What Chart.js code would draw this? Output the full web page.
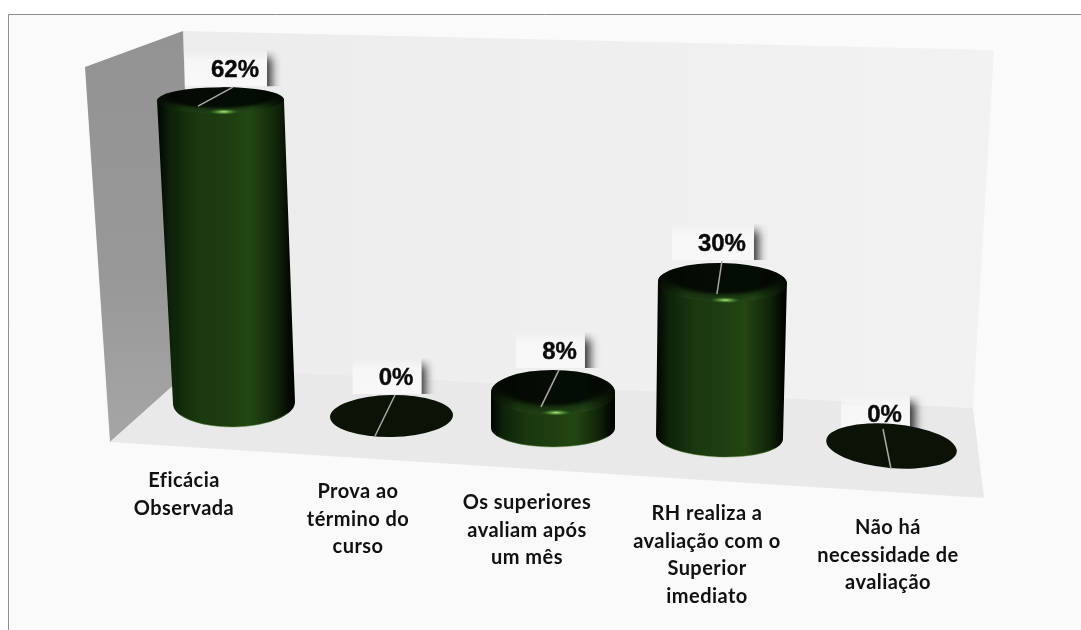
<!DOCTYPE html>
<html lang="pt">
<head>
<meta charset="utf-8">
<style>
  html, body { margin: 0; padding: 0; background: #ffffff; }
  canvas { display: block; }
</style>
<script src="https://cdn.jsdelivr.net/npm/chart.js@4/dist/chart.umd.min.js"></script>
</head>
<body>
<canvas id="chart" width="1081" height="630"></canvas>
<script>
const categories = [
  ["Eficácia", "Observada"],
  ["Prova ao", "término do", "curso"],
  ["Os superiores", "avaliam após", "um mês"],
  ["RH realiza a", "avaliação com o", "Superior", "imediato"],
  ["Não há", "necessidade de", "avaliação"]
];
const percentages = [62, 0, 8, 30, 0];

// Perspective of each column on the sloped floor, in canvas pixels.
const perspective = [
  { dx: 4,    floorY: 403, depth: 0.977, lean: -0.0446, rx: 61,   ry: 24, topRx: 63.5, topRy: 13,   rot: -1 },
  { dx: -3.5, floorY: 416, depth: 1,     lean: 0,       rx: 61.5, ry: 21, topRx: 61.5, topRy: 21,   rot: -1 },
  { dx: -7,   floorY: 428, depth: 0.89,  lean: 0,       rx: 62,   ry: 19, topRx: 62,   topRy: 22.5, rot: 0 },
  { dx: -5.5, floorY: 437, depth: 1.03,  lean: 0.019,   rx: 63.5, ry: 20, topRx: 64.5, topRy: 19.5, rot: 2 },
  { dx: 1.5,  floorY: 446, depth: 1,     lean: 0,       rx: 65.5, ry: 22, topRx: 65.5, topRy: 22,   rot: 5 }
];
// Callout placement relative to the centre of each column's top face.
const callouts = [
  { tx: 14.5, ty: -23,   from: [12.5, -13],  to: [-22.5, 6] },
  { tx: 4.5,  ty: -31,   from: [3.5, -21],   to: [-16.5, 20] },
  { tx: 6.5,  ty: -33.5, from: [6, -22.5],   to: [-12, 14.5] },
  { tx: -0.5, ty: -31.5, from: [-0.5, -21.5],to: [-5.5, 11.5] },
  { tx: -7,   ty: -24,   from: [-8.5, -17],  to: [-0.5, 23] }
];
const categoryLabelPlacement = [
  { x: 184, y: 487 }, { x: 358, y: 498 }, { x: 527, y: 509 }, { x: 707, y: 520 }, { x: 888, y: 534 }
];

function polygon(ctx, pts) {
  ctx.beginPath();
  pts.forEach((p, i) => (i ? ctx.lineTo(p[0], p[1]) : ctx.moveTo(p[0], p[1])));
  ctx.closePath();
}

// Frame, back wall, side wall and floor of the 3D plot box.
const plotBox = {
  id: "plotBox",
  beforeDatasetsDraw(chart) {
    const { ctx } = chart;
    ctx.save();
    ctx.fillStyle = "#fafafa";
    ctx.fillRect(8, 14, 1073, 616);
    ctx.strokeStyle = "#8f8f8f";
    ctx.lineWidth = 1;
    ctx.beginPath();
    ctx.moveTo(8.5, 630);
    ctx.lineTo(8.5, 14.5);
    ctx.lineTo(1081, 14.5);
    ctx.stroke();

    const back = [[183, 31], [994, 50], [973, 408], [194, 367]];
    const backFill = ctx.createLinearGradient(183, 0, 994, 0);
    backFill.addColorStop(0, "#ececec");
    backFill.addColorStop(0.5, "#efefef");
    backFill.addColorStop(1, "#f2f2f2");
    polygon(ctx, back);
    ctx.fillStyle = backFill;
    ctx.fill();

    const side = [[85, 67], [183, 31], [194, 367], [110, 442]];
    const sideFill = ctx.createLinearGradient(0, 31, 0, 442);
    sideFill.addColorStop(0, "#939393");
    sideFill.addColorStop(0.6, "#989898");
    sideFill.addColorStop(1, "#a6a6a6");
    polygon(ctx, side);
    ctx.fillStyle = sideFill;
    ctx.fill();

    polygon(ctx, [[194, 367], [973, 408], [984, 498], [110, 442]]);
    ctx.fillStyle = "#e9e9e9";
    ctx.fill();
    ctx.restore();
  }
};

// Pale label plate, fading out at the top, with a soft shadow on its right side only.
function drawCallout(ctx, cx, cy, value, c) {
  const text = value + "%";
  ctx.font = "bold 24px 'Liberation Sans', Arial, sans-serif";
  const w = ctx.measureText(text).width;
  const tx = cx + c.tx, ty = cy + c.ty;
  const x = tx - w / 2 - 26, y = ty - 27, bw = w + 34, bh = 36;
  ctx.save();
  ctx.beginPath();
  ctx.rect(x + bw, y, 40, bh);
  ctx.clip();
  ctx.shadowColor = "rgba(0,0,0,0.8)";
  ctx.shadowOffsetX = 5;
  ctx.shadowBlur = 9;
  ctx.fillStyle = "#ffffff";
  ctx.fillRect(x, y + 7, bw, bh + 10);
  ctx.restore();
  const plate = ctx.createLinearGradient(0, y, 0, y + bh);
  plate.addColorStop(0, "rgba(248,248,248,0)");
  plate.addColorStop(0.3, "rgba(248,248,248,0.9)");
  plate.addColorStop(1, "rgba(248,248,248,1)");
  ctx.fillStyle = plate;
  ctx.fillRect(x, y, bw, bh);
}

function drawCalloutText(ctx, cx, cy, value, c) {
  ctx.save();
  ctx.strokeStyle = "#a9a9a9";
  ctx.lineWidth = 1.5;
  ctx.beginPath();
  ctx.moveTo(cx + c.from[0], cy + c.from[1]);
  ctx.lineTo(cx + c.to[0], cy + c.to[1]);
  ctx.stroke();
  ctx.fillStyle = "#0a0a0a";
  ctx.strokeStyle = "#0a0a0a";
  ctx.lineWidth = 0.4;
  ctx.font = "bold 24px 'Liberation Sans', Arial, sans-serif";
  ctx.textAlign = "center";
  ctx.textBaseline = "alphabetic";
  ctx.fillText(value + "%", cx + c.tx, cy + c.ty);
  ctx.strokeText(value + "%", cx + c.tx, cy + c.ty);
  ctx.restore();
}

function drawBody(ctx, bx, by, tx, ty, p, rot) {
  const left = Math.min(bx - p.rx, tx - p.topRx);
  const right = Math.max(bx + p.rx, tx + p.topRx);
  const g = ctx.createLinearGradient(left, 0, right, 0);
  g.addColorStop(0, "#010401");
  g.addColorStop(0.1, "#0e2209");
  g.addColorStop(0.3, "#1b390f");
  g.addColorStop(0.5, "#1e3d10");
  g.addColorStop(0.67, "#234713");
  g.addColorStop(0.86, "#12260a");
  g.addColorStop(0.98, "#010301");
  ctx.beginPath();
  ctx.moveTo(tx - p.topRx, ty);
  ctx.lineTo(bx - p.rx, by);
  ctx.ellipse(bx, by, p.rx, p.ry, rot, Math.PI, 0, true);
  ctx.lineTo(tx + p.topRx, ty);
  ctx.closePath();
  ctx.fillStyle = g;
  ctx.fill();

  // thin light edge where the column meets the floor
  ctx.beginPath();
  ctx.ellipse(bx, by, p.rx - 1, p.ry, rot, Math.PI * 0.85, Math.PI * 0.15, true);
  ctx.strokeStyle = "rgba(90,140,60,0.45)";
  ctx.lineWidth = 1;
  ctx.stroke();
}

function drawTopFace(ctx, tx, ty, p, rot) {
  const rx = p.topRx, ry = p.topRy;
  ctx.save();
  ctx.translate(tx, ty);
  ctx.rotate(rot);

  // dark face with a bevelled rim that catches light at the front
  ctx.save();
  ctx.beginPath();
  ctx.ellipse(0, 0, rx, ry, 0, 0, Math.PI * 2);
  ctx.clip();
  ctx.scale(1, ry / rx);
  const rim = ctx.createRadialGradient(0, -rx * 0.3, rx * 0.75, 0, -rx * 0.3, rx * 1.3);
  rim.addColorStop(0, "#040d03");
  rim.addColorStop(0.08, "#061005");
  rim.addColorStop(0.45, "#1a3810");
  rim.addColorStop(1, "#24481a");
  ctx.fillStyle = rim;
  ctx.fillRect(-rx, -rx, rx * 2, rx * 2);
  ctx.restore();

  // sides of the rim fall away into shadow
  ctx.save();
  ctx.beginPath();
  ctx.ellipse(0, 0, rx, ry, 0, 0, Math.PI * 2);
  ctx.clip();
  const edge = ctx.createLinearGradient(-rx, 0, rx, 0);
  edge.addColorStop(0, "rgba(0,0,0,0.85)");
  edge.addColorStop(0.22, "rgba(0,0,0,0.15)");
  edge.addColorStop(0.75, "rgba(0,0,0,0)");
  edge.addColorStop(1, "rgba(0,0,0,0.85)");
  ctx.fillStyle = edge;
  ctx.fillRect(-rx, -ry, rx * 2, ry * 2);
  ctx.restore();

  // specular highlight
  ctx.translate(rx * 0.05, ry * 0.9);
  ctx.scale(1, 0.2);
  const glow = ctx.createRadialGradient(0, 0, 0, 0, 0, 15);
  glow.addColorStop(0, "rgba(190,235,140,1)");
  glow.addColorStop(0.35, "rgba(120,190,80,0.75)");
  glow.addColorStop(1, "rgba(70,130,40,0)");
  ctx.fillStyle = glow;
  ctx.beginPath();
  ctx.arc(0, 0, 15, 0, Math.PI * 2);
  ctx.fill();
  ctx.restore();
}

// Draws each bar as a cylinder standing on the floor, using the bar's scale position.
const cylinders = {
  id: "cylinders",
  afterDatasetsDraw(chart) {
    const { ctx } = chart;
    const bars = chart.getDatasetMeta(0).data;
    const drawn = bars.map((bar, i) => {
      const p = perspective[i];
      const height = (bar.base - bar.y) * p.depth;
      const bx = bar.x + p.dx;
      return { p, bx, by: p.floorY, tx: bx + height * p.lean, ty: p.floorY - height, height };
    });
    ctx.save();
    drawn.forEach((d, i) => {
      const c = callouts[i];
      const value = chart.data.datasets[0].data[i];
      drawCallout(ctx, d.tx, d.ty, value, c);
      const rot = d.p.rot * Math.PI / 180;
      if (d.height > 0) {
        drawBody(ctx, d.bx, d.by, d.tx, d.ty, d.p, rot);
        drawTopFace(ctx, d.tx, d.ty, d.p, rot * 0.5);
      } else {
        ctx.beginPath();
        ctx.ellipse(d.bx, d.by, d.p.rx, d.p.ry, rot, 0, Math.PI * 2);
        ctx.fillStyle = "#0a1306";
        ctx.fill();
      }
      drawCalloutText(ctx, d.tx, d.ty, value, c);
    });
    ctx.restore();
  }
};

// Category names step down the canvas along the front edge of the floor.
const stepLabels = {
  id: "stepLabels",
  afterDraw(chart) {
    const { ctx } = chart;
    ctx.save();
    ctx.fillStyle = "#111111";
    ctx.font = "bold 20px Lato, sans-serif";
    ctx.letterSpacing = "0.45px";
    ctx.textAlign = "center";
    ctx.textBaseline = "alphabetic";
    chart.data.labels.forEach((lines, i) => {
      const at = categoryLabelPlacement[i];
      lines.forEach((line, n) => ctx.fillText(line, at.x, at.y + n * 27.5));
    });
    ctx.restore();
  }
};

new Chart(document.getElementById("chart"), {
  type: "bar",
  data: {
    labels: categories,
    datasets: [{
      data: percentages,
      backgroundColor: "rgba(0,0,0,0)",
      borderWidth: 0
    }]
  },
  options: {
    responsive: false,
    animation: false,
    devicePixelRatio: 1,
    layout: { padding: { left: 147.5, right: 108.5, top: 60, bottom: 220 } },
    plugins: { legend: { display: false }, tooltip: { enabled: false } },
    scales: {
      x: { display: false },
      y: { display: false, min: 0, max: 70 }
    }
  },
  plugins: [plotBox, cylinders, stepLabels]
});
</script>
</body>
</html>
